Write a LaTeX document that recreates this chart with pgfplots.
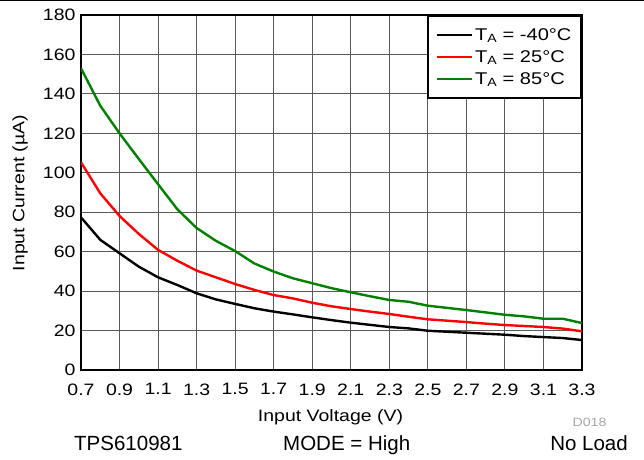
\documentclass[border=0pt]{standalone}
\usepackage{fontspec}
\setmainfont{Liberation Sans}[FakeStretch=1.18]
\newfontfamily\plainfont{Liberation Sans}
\usepackage{pgfplots}
\pgfplotsset{compat=1.18}
\definecolor{tigreen}{RGB}{0,128,0}
\definecolor{gridgray}{RGB}{90,90,90}
\pgfplotsset{
  legend image code/.code={\draw[#1] (0pt,0pt) -- (35pt,0pt);},
}
\begin{document}
\begin{tikzpicture}[x=1pt,y=1pt]
\useasboundingbox (0,0) rectangle (644,459);
\draw[line width=1pt] (0,458.5) -- (644,458.5);
\begin{axis}[
  at={(81pt,89pt)}, anchor=south west,
  scale only axis, width=501pt, height=355pt,
  xmin=0.7, xmax=3.3, ymin=0, ymax=180,
  xtick={0.7,0.9,1.1,1.3,1.5,1.7,1.9,2.1,2.3,2.5,2.7,2.9,3.1,3.3},
  ytick={0,20,40,60,80,100,120,140,160,180},
  xticklabel={\pgfmathprintnumber[fixed,fixed zerofill,precision=1]{\tick}},
  /pgf/number format/assume math mode=true,
  grid=major,
  major grid style={gridgray, line width=0.9pt},
  axis line style={line width=2pt},
  major tick length=0pt,
  tick label style={font=\fontsize{16.5}{19}\selectfont},
  xticklabel style={yshift=-10pt},
  yticklabel style={xshift=-2pt},
  legend style={at={(1,1)}, anchor=north east, draw=black, line width=2pt,
    font=\fontsize{17}{18}\selectfont, inner xsep=7.5pt, inner ysep=10.5pt,
    row sep=4.5pt, cells={anchor=west}, fill=white},
  legend cell align=left,
]
\addplot[black, line width=2.4pt] coordinates {
(0.7,77.4) (0.8,66) (0.9,59.2) (1.0,52.4) (1.1,47) (1.2,43.1) (1.3,38.9)
(1.4,35.8) (1.5,33.5) (1.6,31.3) (1.7,29.6) (1.8,28.2) (1.9,26.7) (2.0,25.3)
(2.1,24) (2.2,22.9) (2.3,21.8) (2.4,21.1) (2.5,19.9) (2.6,19.4) (2.7,18.9)
(2.8,18.4) (2.9,17.9) (3.0,17.2) (3.1,16.7) (3.2,16.2) (3.3,15.2)};
\addlegendentry{T\textsubscript{A} = -40\textdegree C}
\addplot[red, line width=2.4pt] coordinates {
(0.7,105.3) (0.8,89.6) (0.9,78.1) (1.0,69) (1.1,60.9) (1.2,55.4) (1.3,50.4)
(1.4,47) (1.5,43.6) (1.6,40.6) (1.7,38) (1.8,36.3) (1.9,34.1) (2.0,32.3)
(2.1,30.9) (2.2,29.6) (2.3,28.4) (2.4,27) (2.5,25.7) (2.6,25) (2.7,24.3)
(2.8,23.5) (2.9,22.8) (3.0,22.3) (3.1,21.8) (3.2,21) (3.3,19.6)};
\addlegendentry{T\textsubscript{A} = 25\textdegree C}
\addplot[tigreen, line width=2.4pt] coordinates {
(0.7,153) (0.8,134) (0.9,120) (1.0,107) (1.1,94.2) (1.2,81.5) (1.3,72)
(1.4,65.5) (1.5,60.3) (1.6,54) (1.7,49.9) (1.8,46.5) (1.9,44) (2.0,41.5)
(2.1,39.4) (2.2,37.4) (2.3,35.5) (2.4,34.6) (2.5,32.6) (2.6,31.5) (2.7,30.4)
(2.8,29.2) (2.9,28) (3.0,27.2) (3.1,26) (3.2,26) (3.3,23.8)};
\addlegendentry{T\textsubscript{A} = 85\textdegree C}
\end{axis}
\node[font=\fontsize{16.5}{19}\selectfont] at (330.5,42) {Input Voltage (V)};
\node[font=\fontsize{16.5}{19}\selectfont, rotate=90] at (20,266) {Input Current (µA)};
\node[font=\fontsize{12}{14}\selectfont, text=gray!70, anchor=east] at (610,37) {D018};
\node[font=\plainfont\fontsize{20.5}{24}\selectfont, anchor=base west, inner sep=0pt] at (74,8.3) {TPS610981};
\node[font=\plainfont\fontsize{20.5}{24}\selectfont, anchor=base, inner sep=0pt] at (346.7,8.3) {MODE = High};
\node[font=\plainfont\fontsize{20.5}{24}\selectfont, anchor=base east, inner sep=0pt] at (628,8.3) {No Load};
\end{tikzpicture}
\end{document}
